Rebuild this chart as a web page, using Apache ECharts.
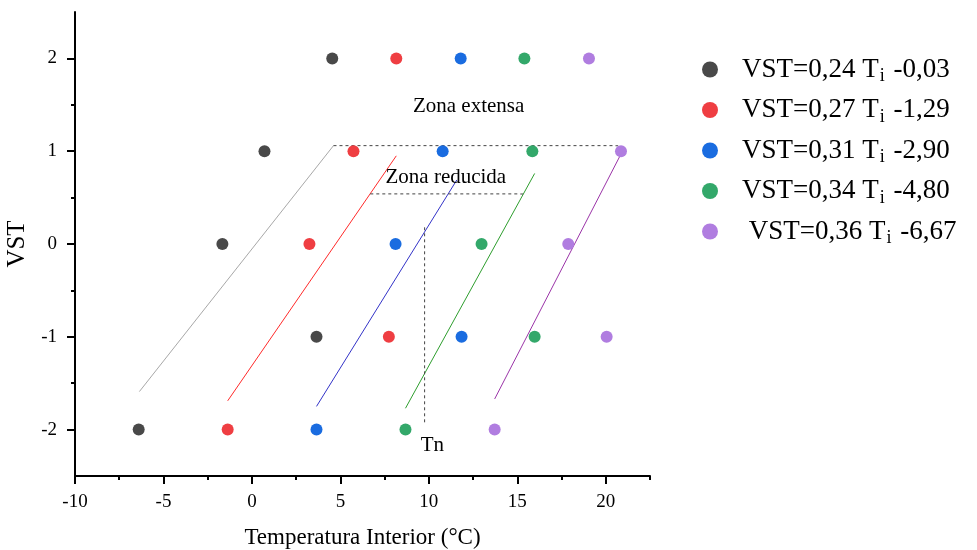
<!DOCTYPE html>
<html><head><meta charset="utf-8">
<script src="https://cdn.jsdelivr.net/npm/echarts@6/dist/echarts.min.js"></script>
<style>html,body{margin:0;padding:0;background:#fff}#c{width:977px;height:550px}</style>
</head><body><div id="c"></div>
<script>
// ---- data ----
const vstLevels = [2, 1, 0, -1, -2];
const tempBlack  = [4.54, 0.71, -1.67, 3.65, -6.40];
const tempRed    = [8.16, 5.74, 3.25, 7.74, -1.37];
const tempBlue   = [11.80, 10.78, 8.12, 11.85, 3.65];
const tempGreen  = [15.40, 15.85, 12.98, 15.98, 8.68];
const tempPurple = [19.05, 20.86, 17.88, 20.05, 13.72];

const legendPrefix = ['VST=0,24 T', 'VST=0,27 T', 'VST=0,31 T', 'VST=0,34 T', ' VST=0,36 T'];
const legendSub = 'i';
const legendSuffix = [' -0,03', ' -1,29', ' -2,90', ' -4,80', ' -6,67'];

// regression line end points [T, VST]
const lineBlack  = [[-6.36, -1.59], [4.61, 1.06]];
const lineRed    = [[-1.37, -1.69], [8.16, 0.95]];
const lineBlue   = [[3.65, -1.75], [11.58, 0.69]];
const lineGreen  = [[8.68, -1.77], [15.98, 0.76]];
const linePurple = [[13.72, -1.67], [20.86, 0.97]];

// zone boundary dashed lines
const zoneExtensa = [[4.61, 1.06], [20.7, 1.06]];
const zoneReducida = [[6.69, 0.54], [15.33, 0.54]];
const tnLine = [[9.76, 0.18], [9.76, -1.93]];

const annotations = [[12.25, 1.48, 'Zona extensa'], [10.96, 0.72, 'Zona reducida'], [10.2, -2.17, 'Tn']];

const xTicks = [-10, -5, 0, 5, 10, 15, 20];
const xMinorTicks = [-7.5, -2.5, 2.5, 7.5, 12.5, 17.5, 22.5];
const yTicks = [-2, -1, 0, 1, 2];
const yMinorTicks = [-1.5, -0.5, 0.5, 1.5];

// ---- chart ----
const FONT = 'Liberation Serif';
const dotColors = ['#494949', '#ef3e42', '#1a6ce0', '#33a86a', '#b07de0'];
const lineColors = ['#a8a8a8', '#ff2a2a', '#3333c8', '#2e9e2e', '#9b34a8'];
const temps = [tempBlack, tempRed, tempBlue, tempGreen, tempPurple];
const lines = [lineBlack, lineRed, lineBlue, lineGreen, linePurple];
const names = legendPrefix.map((p, i) => p + legendSub + legendSuffix[i]);

const series = [];
temps.forEach((t, i) => {
  series.push({
    type: 'scatter', name: names[i], symbol: 'circle', symbolSize: 12,
    itemStyle: { color: dotColors[i], opacity: 1 }, z: 5,
    data: t.map((x, j) => [x, vstLevels[j]])
  });
});
lines.forEach((l, i) => {
  series.push({
    type: 'line', symbol: 'none', silent: true, z: 3,
    lineStyle: { color: lineColors[i], width: 1 }, data: l
  });
});
[zoneExtensa, zoneReducida, tnLine].forEach(l => {
  series.push({
    type: 'line', symbol: 'none', silent: true, z: 3,
    lineStyle: { color: '#444', width: 1, type: [3, 3] }, data: l
  });
});
series.push({
  type: 'scatter', symbolSize: 0, silent: true, z: 6,
  itemStyle: { opacity: 1 },
  data: annotations,
  label: { show: true, position: 'inside', formatter: p => p.value[2],
    fontFamily: FONT, fontSize: 21, color: '#000', opacity: 1 }
});

function baseX(extra) {
  return Object.assign({
    type: 'value', min: -10, max: 22.5, position: 'bottom',
    splitLine: { show: false }
  }, extra);
}
function baseY(extra) {
  return Object.assign({
    type: 'value', min: -2.5, max: 2.5, position: 'left',
    splitLine: { show: false }
  }, extra);
}

const chart = echarts.init(document.getElementById('c'));
chart.setOption({
  animation: false,
  backgroundColor: '#fff',
  grid: { left: 75, right: 327, top: 12, bottom: 74, containLabel: false, outerBoundsMode: 'none' },
  legend: {
    orient: 'vertical', left: 697, top: 51,
    itemWidth: 16, itemHeight: 16, itemGap: 11, icon: 'circle',
    data: names,
    formatter: name => {
      const i = names.indexOf(name);
      return '{p|}{a|' + legendPrefix[i] + '}{s|' + legendSub + '}{a|' + legendSuffix[i] + '}';
    },
    textStyle: {
      fontFamily: FONT, fontSize: 27, color: '#000',
      rich: {
        p: { width: 19 },
        a: { fontFamily: FONT, fontSize: 27, color: '#000', lineHeight: 30 },
        s: { fontFamily: FONT, fontSize: 18, color: '#000', lineHeight: 32, verticalAlign: 'bottom', padding: [0, 2, 0, 1] }
      }
    }
  },
  xAxis: [
    baseX({
      name: 'Temperatura Interior (°C)', nameLocation: 'middle', nameGap: 50,
      nameTextStyle: { fontFamily: FONT, fontSize: 23, color: '#000' },
      axisLine: { show: true, onZero: false, lineStyle: { color: '#000', width: 2 } },
      axisTick: { show: true, inside: false, length: 8, customValues: xTicks, lineStyle: { color: '#000', width: 2 } },
      axisLabel: { show: true, margin: 17, customValues: xTicks, fontFamily: FONT, fontSize: 19, color: '#000' }
    }),
    baseX({
      axisLine: { show: false, onZero: false },
      axisTick: { show: true, inside: false, length: 4, customValues: xMinorTicks, lineStyle: { color: '#000', width: 2 } },
      axisLabel: { show: false }
    })
  ],
  yAxis: [
    baseY({
      name: 'VST', nameLocation: 'middle', nameGap: 37,
      nameTextStyle: { fontFamily: FONT, fontSize: 25, color: '#000' },
      axisLine: { show: true, onZero: false, lineStyle: { color: '#000', width: 2 } },
      axisTick: { show: true, inside: false, length: 8, customValues: yTicks, lineStyle: { color: '#000', width: 2 } },
      axisLabel: { show: true, margin: 18, customValues: yTicks, fontFamily: FONT, fontSize: 19, color: '#000' }
    }),
    baseY({
      axisLine: { show: false, onZero: false },
      axisTick: { show: true, inside: false, length: 4, customValues: yMinorTicks, lineStyle: { color: '#000', width: 2 } },
      axisLabel: { show: false }
    })
  ],
  series: series
});
</script>
</body></html>
